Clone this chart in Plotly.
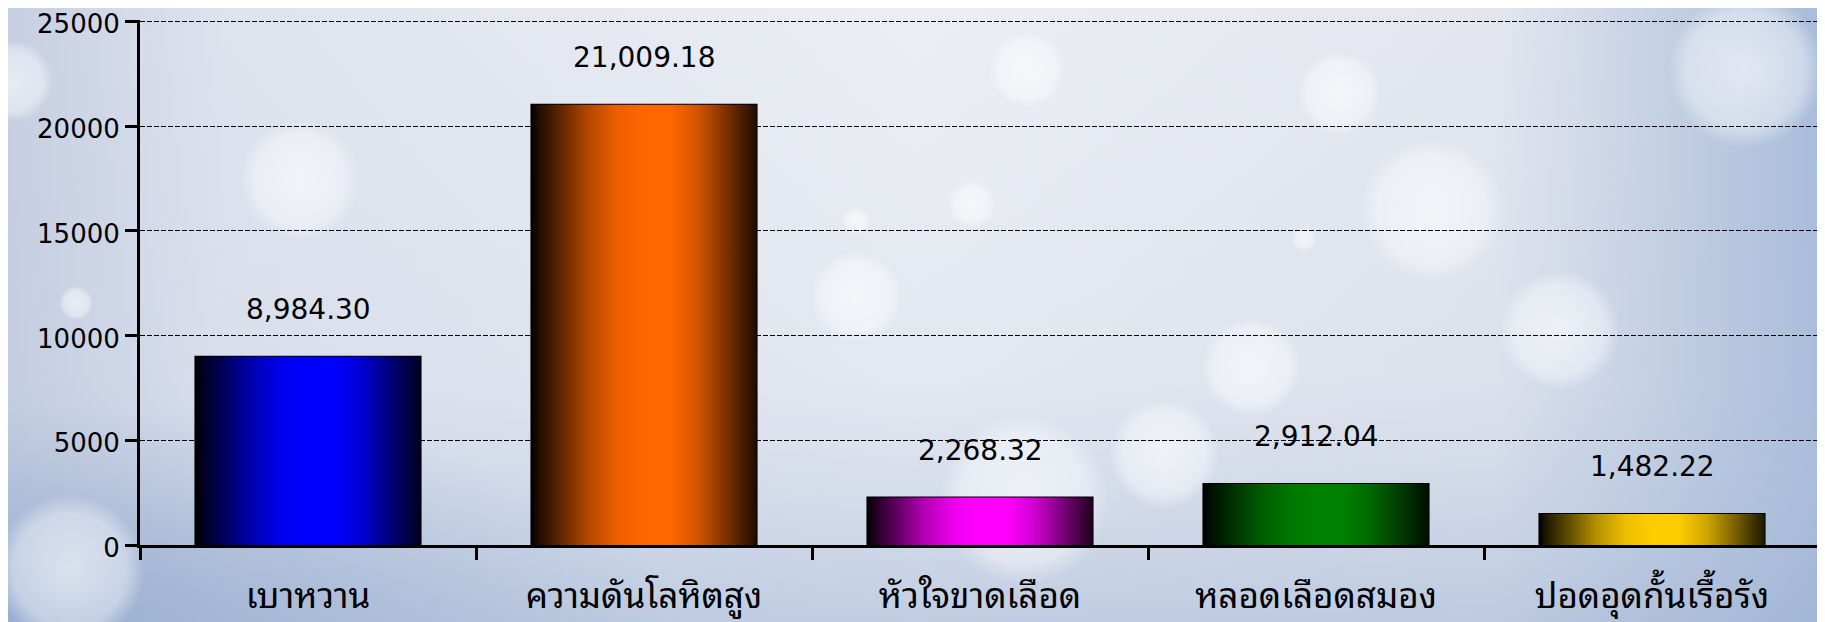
import base64
import plotly.graph_objects as go

categories = ["เบาหวาน", "ความดันโลหิตสูง", "หัวใจขาดเลือด", "หลอดเลือดสมอง", "ปอดอุดกั้นเรื้อรัง"]
values = [8984.30, 21009.18, 2268.32, 2912.04, 1482.22]
bar_colors = ["#0000FF", "#FF6600", "#FF00FF", "#008000", "#FFCC00"]
y_ticks = [0, 5000, 10000, 15000, 20000, 25000]

# window is 1825x622; the page body adds an 8px offset
OFF = 8
W, H = 1825 - OFF, 622 - OFF
L, R, T, B = 132, 5, 12, 77
pw, ph = W - L - R, H - T - B
bar_w = 0.67
y_top = 25060

# ---------- background (decorative bokeh picture as SVG) ----------
circles = [(12, 81, 41), (76, 303, 17), (1027, 70, 38), (1339, 93, 42), (1432, 210, 72),
           (1251, 367, 50), (856, 297, 46), (972, 204, 24), (1746, 70, 78), (1024, 500, 85),
           (70, 570, 75), (1164, 454, 55), (1304, 239, 12), (856, 221, 14), (300, 180, 60),
           (1560, 330, 60), (640, 420, 40)]
circ_svg = "".join(
    f'<circle cx="{x - OFF}" cy="{y - OFF}" r="{r}" fill="url(#bk)"/>' for x, y, r in circles)
svg = f'''<svg xmlns="http://www.w3.org/2000/svg" width="{W}" height="{H}" viewBox="0 0 {W} {H}">
<defs>
<linearGradient id="h" x1="0" y1="0" x2="1" y2="0">
<stop offset="0" stop-color="#C6CFE1"/><stop offset="0.12" stop-color="#DFE3EE"/>
<stop offset="0.5" stop-color="#ECEEF4"/><stop offset="0.82" stop-color="#E3E6EF"/>
<stop offset="1" stop-color="#A7BBD9"/></linearGradient>
<linearGradient id="v" x1="0" y1="0" x2="0" y2="1">
<stop offset="0" stop-color="#B5C5DE" stop-opacity="0"/><stop offset="0.6" stop-color="#B5C5DE" stop-opacity="0.15"/>
<stop offset="1" stop-color="#9DB2D3" stop-opacity="0.55"/></linearGradient>
<radialGradient id="bl" cx="0.02" cy="1" r="0.35">
<stop offset="0" stop-color="#8FA7CC" stop-opacity="0.7"/><stop offset="1" stop-color="#8FA7CC" stop-opacity="0"/></radialGradient>
<radialGradient id="bk"><stop offset="0" stop-color="#FFFFFF" stop-opacity="0.6"/>
<stop offset="0.75" stop-color="#FFFFFF" stop-opacity="0.4"/><stop offset="1" stop-color="#FFFFFF" stop-opacity="0"/></radialGradient>
</defs>
<rect width="{W}" height="{H}" fill="url(#h)"/>
<rect width="{W}" height="{H}" fill="url(#v)"/>
<rect width="{W}" height="{H}" fill="url(#bl)"/>
{circ_svg}
</svg>'''
bg_src = "data:image/svg+xml;base64," + base64.b64encode(svg.encode()).decode()


def shade(hex_color, k):
    r, g, b = (int(hex_color[i:i + 2], 16) for i in (1, 3, 5))
    return f"rgb({round(r * k)},{round(g * k)},{round(b * k)})"


grad_stops = [(0, 0.0), (0.03, 0.12), (0.12, 0.35), (0.25, 0.7), (0.38, 0.93), (0.5, 1.0),
              (0.62, 1.0), (0.74, 0.82), (0.86, 0.5), (0.95, 0.25), (1.0, 0.12)]

fig = go.Figure()

for i, (v, c) in enumerate(zip(values, bar_colors)):
    x0, x1 = i - bar_w / 2, i + bar_w / 2
    fig.add_trace(go.Scatter(
        x=[x0, x1, x1, x0, x0], y=[0, 0, v, v, 0], mode="lines",
        fill="toself", line=dict(width=0),
        fillgradient=dict(type="horizontal", start=x0, stop=x1,
                          colorscale=[[t, shade(c, k)] for t, k in grad_stops]),
        hoverinfo="skip", showlegend=False))

fig.add_trace(go.Bar(x=list(range(len(values))), y=values, width=bar_w,
                     marker=dict(color="rgba(0,0,0,0)", line=dict(color="black", width=2)),
                     showlegend=False, hoverinfo="skip"))

for i, v in enumerate(values):
    fig.add_annotation(x=i, y=v, text=f"{v:,.2f}", showarrow=False, yanchor="middle",
                       yshift=47, font=dict(family="DejaVu Sans", size=28, color="black"))

fig.add_layout_image(dict(source=bg_src, xref="paper", yref="paper",
                          x=-L / pw, y=1 + T / ph, sizex=W / pw, sizey=H / ph,
                          xanchor="left", yanchor="top", sizing="stretch", layer="below"))

fig.update_layout(
    width=W, height=H, margin=dict(l=L, r=R, t=T, b=B, pad=0, autoexpand=False),
    paper_bgcolor="#E4E7F0", plot_bgcolor="rgba(0,0,0,0)",
    showlegend=False,
    xaxis=dict(range=[-0.5, len(values) - 0.5], tickvals=list(range(len(values))),
               ticktext=categories, ticks="", showgrid=False, zeroline=False,
               showline=True, linecolor="black", linewidth=3, automargin=False,
               tickfont=dict(family="Noto Sans Thai Looped, Noto Serif Thai, Noto Sans Thai, Noto Sans, sans-serif",
                             size=35, color="black"),
               ticklabelstandoff=18,
               minor=dict(tickvals=[k - 0.5 for k in range(len(values) + 1)], ticks="outside",
                          ticklen=12, tickwidth=3, tickcolor="black", showgrid=False)),
    yaxis=dict(range=[0, y_top], tickvals=y_ticks, ticktext=[str(t) for t in y_ticks],
               ticks="outside", ticklen=12, tickwidth=3, ticklabeloverflow="allow",
               ticklabelshift=3, automargin=False,
               tickcolor="black", showline=True, linecolor="black", linewidth=3,
               showgrid=True, gridcolor="black", gridwidth=1, griddash="5px,2px",
               zeroline=False, tickfont=dict(family="DejaVu Sans", size=26, color="black")),
)

fig.write_html("out.html")
